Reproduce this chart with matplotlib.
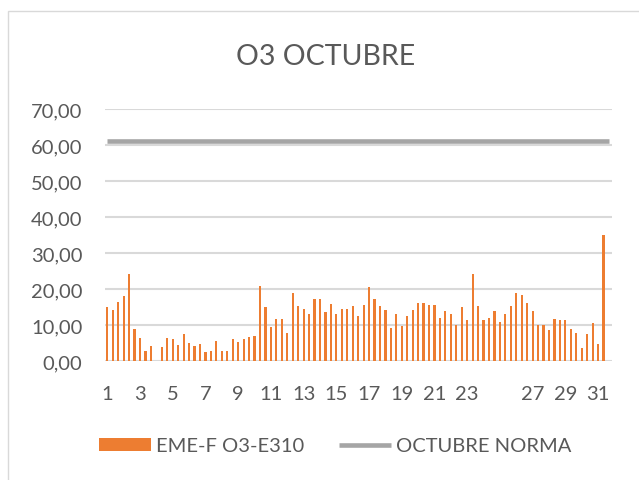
import numpy as np
import matplotlib
matplotlib.use("Agg")
import matplotlib.pyplot as plt
from matplotlib.patches import Rectangle
from matplotlib.ticker import FuncFormatter

# ---- data ----
o3_values = [
    14.9, 14.2, 16.3, 18.0, 24.2, 8.8, 6.3, 2.7, 4.1, np.nan,
    3.8, 6.3, 6.0, 4.5, 7.4, 4.9, 4.2, 4.8, 2.4, 2.8,
    5.6, 2.8, 2.8, 6.0, 5.3, 6.0, 6.7, 7.0, 20.9, 14.9,
    9.5, 11.6, 11.6, 7.7, 18.8, 15.2, 14.4, 13.1, 17.3, 17.3,
    13.5, 15.9, 13.1, 14.4, 14.4, 15.2, 12.4, 15.6, 20.6, 17.3,
    15.2, 14.1, 9.2, 13.1, 9.8, 12.4, 14.2, 16.0, 16.0, 15.6,
    15.6, 12.0, 13.8, 13.1, 9.9, 14.9, 11.4, 24.2, 15.2, 11.3,
    11.9, 13.8, 10.9, 13.1, 15.2, 18.8, 18.4, 16.0, 13.9, 10.1,
    10.1, 8.5, 11.7, 11.3, 11.3, 8.9, 7.7, 3.5, 7.4, 10.6,
    4.6, 35.1, np.nan,
]
norm_value = 61.0
norm_values = [norm_value] * len(o3_values)
x_tick_labels = ['1', '3', '5', '7', '9', '11', '13', '15', '17', '19',
                 '21', '23', '', '27', '29', '31']
y_ticks = [0, 10, 20, 30, 40, 50, 60, 70]
series_bar = "EME-F O3-E310"
series_line = "OCTUBRE NORMA"
title = "O3 OCTUBRE"

# ---- style ----
plt.rcParams['font.family'] = ['Lato', 'DejaVu Sans']
TXT = '#595959'
ORANGE = '#ED7D31'
GRAY = '#A5A5A5'
GRID = '#D9D9D9'

W, H = 639, 481
fig = plt.figure(figsize=(W / 100, H / 100), dpi=100)
fig.patch.set_facecolor('white')

# chart-area border (cropped on right/bottom)
fig.patches.append(Rectangle((8 / W, -0.2), 1.5, 1 - 12 / H + 0.2,
                             transform=fig.transFigure, fill=False,
                             edgecolor=GRID, linewidth=1.0))

left, right = 104.6 / W, 611.7 / W
bottom, top = 1 - 362 / H, 1 - 110 / H
ax = fig.add_axes([left, bottom, right - left, top - bottom])

x = np.arange(len(o3_values))
bars = ax.bar(x, o3_values, width=0.4, color=ORANGE, zorder=3, label=series_bar)
line, = ax.plot(x, norm_values, color=GRAY, linewidth=3.3, zorder=4,
                label=series_line, solid_capstyle='butt')

ax.set_xlim(-0.5, len(o3_values) - 0.5)
ax.set_ylim(0, 70)
ax.set_yticks(y_ticks)
ax.yaxis.set_major_formatter(FuncFormatter(lambda v, p: f"{v:.2f}".replace('.', ',')))
ax.set_xticks(np.arange(0, len(o3_values), 6)[:len(x_tick_labels)])
ax.set_xticklabels(x_tick_labels)

ax.grid(axis='y', color=GRID, linewidth=1.5, zorder=0)
ax.set_axisbelow(True)
for s in ax.spines.values():
    s.set_visible(False)
ax.tick_params(axis='both', length=0, labelsize=14.5, colors=TXT)
ax.tick_params(axis='y', pad=16)
ax.tick_params(axis='x', pad=17)

fig.text(325.5 / W, 1 - 57 / H, title, ha='center', va='center',
         fontsize=20.5, color=TXT)

leg = fig.legend(handles=[bars, line], labels=[series_bar, series_line],
                 loc='center', bbox_to_anchor=(335 / W, 1 - 447 / H),
                 ncol=2, frameon=False, fontsize=14.5, handlelength=2.6,
                 handleheight=0.6, handletextpad=0.25, columnspacing=1.7,
                 borderpad=0, borderaxespad=0)
for t in leg.get_texts():
    t.set_color(TXT)

fig.savefig('out.png', dpi=100, facecolor='white')
